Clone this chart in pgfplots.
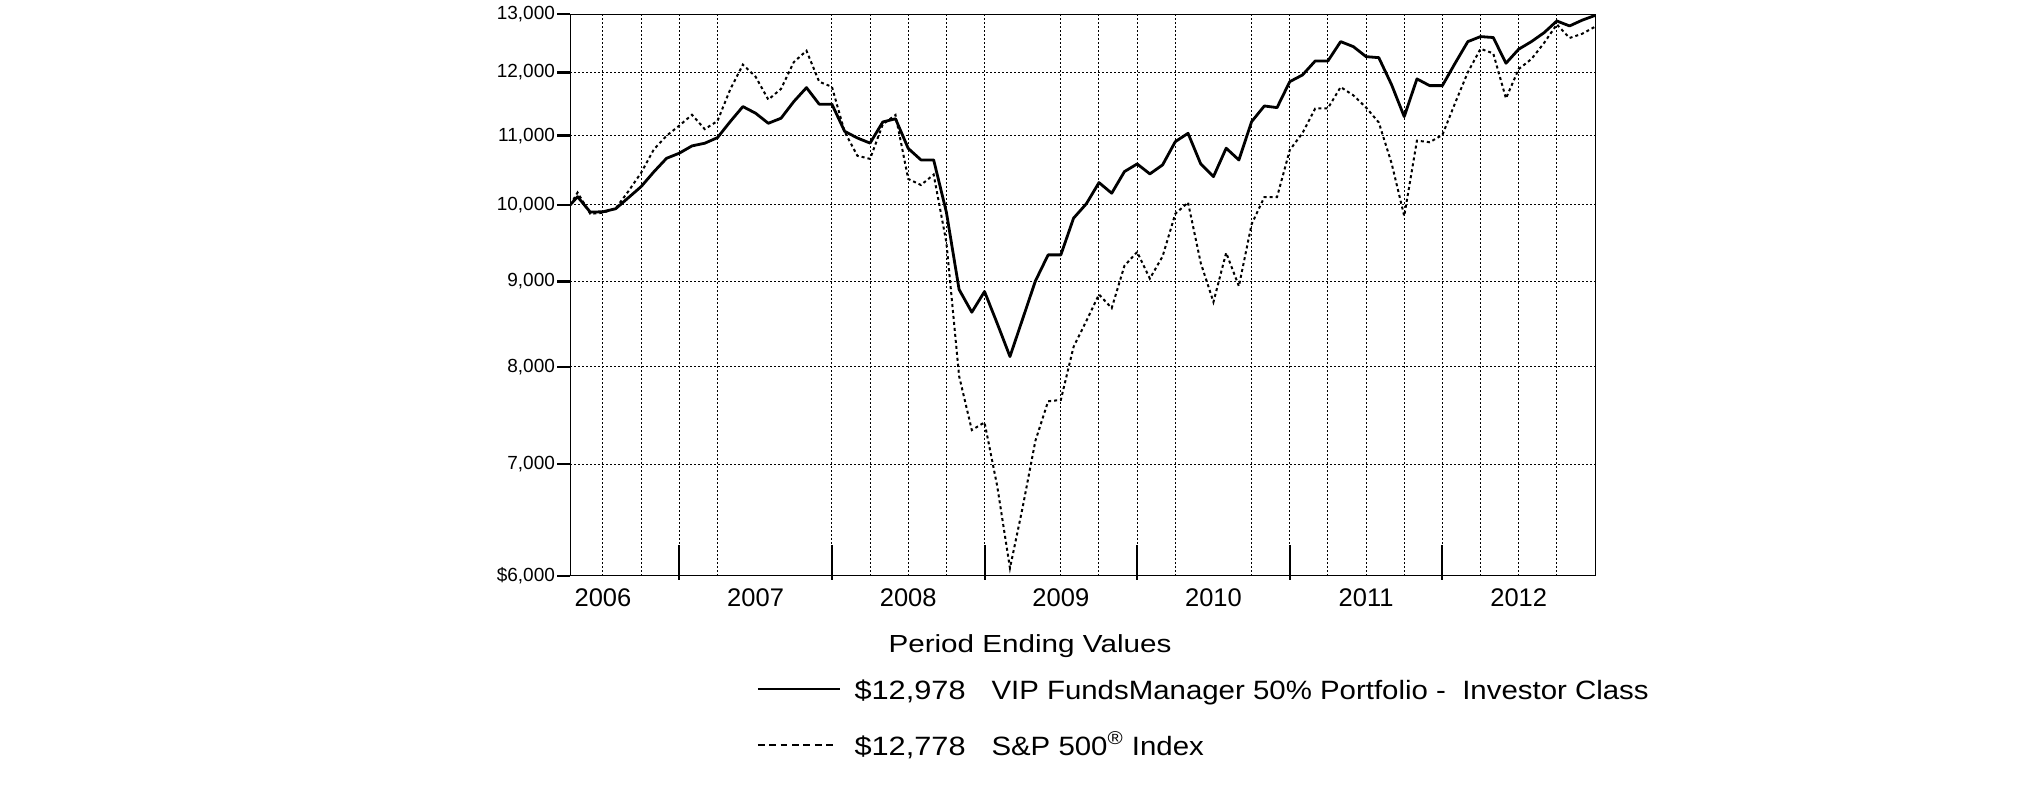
\documentclass[border=0pt]{standalone}
\usepackage{fontspec}
\setmainfont{Liberation Sans}
\newfontfamily\titlefont[FakeStretch=1.2]{Liberation Sans}
\newfontfamily\legfont[FakeStretch=1.11]{Liberation Sans}
\newfontfamily\numfont[FakeStretch=1.16]{Liberation Sans}
\usepackage{pgfplots}
\pgfplotsset{compat=1.18}
\usepackage{pgfplotstable}

\pgfplotstableread{
X F S
3.429 10000 10000
4 10113 10170
5 9900 9877
6 9905 9891
7 9947 9952
8 10099 10189
9 10254 10452
10 10465 10793
11 10662 10998
12 10737 11152
13 10845 11320
14 10885 11098
15 10969 11223
16 11213 11720
17 11448 12129
18 11344 11928
19 11188 11558
20 11266 11731
21 11527 12170
22 11751 12363
23 11486 11846
24 11486 11764
25 11065 11058
26 10964 10699
27 10887 10653
28 11208 11172
29 11258 11317
30 10808 10363
31 10638 10276
32 10638 10425
33 9900 9496
34 8900 7902
35 8626 7335
36 8875 7413
37 8493 6788
38 8115 6065
39 8548 6596
40 9005 7227
41 9334 7631
42 9334 7646
43 9818 8224
44 10013 8521
45 10311 8839
46 10161 8675
47 10468 9195
48 10579 9372
49 10435 9035
50 10565 9315
51 10909 9877
52 11035 10033
53 10579 9231
54 10396 8748
55 10811 9362
56 10637 8940
57 11213 9737
58 11458 10107
59 11432 10108
60 11848 10783
61 11957 11039
62 12190 11417
63 12190 11422
64 12519 11760
65 12433 11627
66 12263 11433
67 12246 11201
68 11800 10593
69 11291 9848
70 11893 10924
71 11783 10900
72 11783 11011
73 12152 11504
74 12519 12001
75 12606 12396
76 12590 12318
77 12152 11578
78 12389 12055
79 12519 12222
80 12675 12497
81 12880 12819
82 12792 12582
83 12895 12655
84 12978 12778
}\datatable

\begin{document}
\begin{tikzpicture}
\path[use as bounding box] (-285.15pt,-106pt) rectangle (727.35pt,288pt);
\begin{axis}[
  at={(0pt,0pt)}, anchor=south west,
  scale only axis, width=512.35pt, height=280.85pt,
  xmin=3.429, xmax=84,
  ymode=log, ymin=6000, ymax=13000,
  axis line style={line width=0.5pt, black},
  xtick={6,18,30,42,54,66,78},
  xticklabels={2006,2007,2008,2009,2010,2011,2012},
  xtick style={draw=none},
  x tick label style={font=\fontsize{12.75}{14}\selectfont, yshift=3.4pt},
  minor xtick={6,9,12,15,24,27,30,33,36,42,45,48,51,57,60,63,66,69,72,75,78,81},
  xminorgrids=true,
  minor x grid style={black, line width=0.5pt, dash pattern=on 0.75pt off 1.25pt},
  minor tick length=0pt,
  ytick={6000,7000,8000,9000,10000,11000,12000,13000},
  yticklabels={{\$6,000},{7,000},{8,000},{9,000},{10,000},{11,000},{12,000},{13,000}},
  ytick pos=left,
  ymajorgrids=true,
  major y grid style={black, line width=0.5pt, dash pattern=on 1pt off 1pt},
  tick align=outside,
  major tick length=6.5pt,
  ytick style={line width=1.2pt, black},
  y tick label style={font=\fontsize{9.5}{10}\selectfont, inner sep=1pt},
  xlabel={\titlefont Period Ending Values},
  xlabel style={at={(axis description cs:0.4486,-0.1365)}, anchor=base, font=\fontsize{12.35}{14}\selectfont, inner sep=0pt},
  legend image code/.code={\draw[#1] (0pt,0pt) -- (41.15pt,0pt);},
  legend cell align=left,
  legend style={draw=none, fill=none, at={(axis description cs:0.18123,-0.1695)}, anchor=north west,
    inner sep=0pt, row sep=10.45pt, font=\legfont\fontsize{13.25}{15}\selectfont,
    /tikz/every even column/.append style={column sep=8.35pt}},
]
\addplot[black, line width=1.4pt, line join=round] table[x=X,y=F]{\datatable};
\addlegendentry{\rule[-0.3em]{0pt}{1.2em}\hspace{4.5pt}\makebox[68.5pt][l]{\numfont\$12,978}VIP FundsManager 50\% Portfolio -\ \ Investor Class}
\addplot[black, line width=1pt, dash pattern=on 1.5pt off 1.5pt,
  legend image code/.code={\draw[black,line width=1pt,dash pattern=on 3.4pt off 2.3pt] (0pt,0pt) -- (37.85pt,0pt);}]
  table[x=X,y=S]{\datatable};
\addlegendentry{\rule[-0.3em]{0pt}{1.2em}\hspace{4.5pt}\makebox[68.5pt][l]{\numfont\$12,778}S\&P 500\textsuperscript{®} Index}
\end{axis}
\begin{axis}[
  at={(0pt,0pt)}, anchor=south west,
  scale only axis, width=512.35pt, height=280.85pt,
  xmin=3.429, xmax=84,
  ymode=log, ymin=6000, ymax=13000,
  axis line style={draw=none},
  ytick=\empty,
  xtick={12,24,36,48,60,72},
  xticklabels={},
  xtick pos=bottom,
  tick align=inside,
  major tick length=17.5pt,
  xtick style={line width=1pt, black, yshift=-2pt},
]
\end{axis}
\end{tikzpicture}
\end{document}
